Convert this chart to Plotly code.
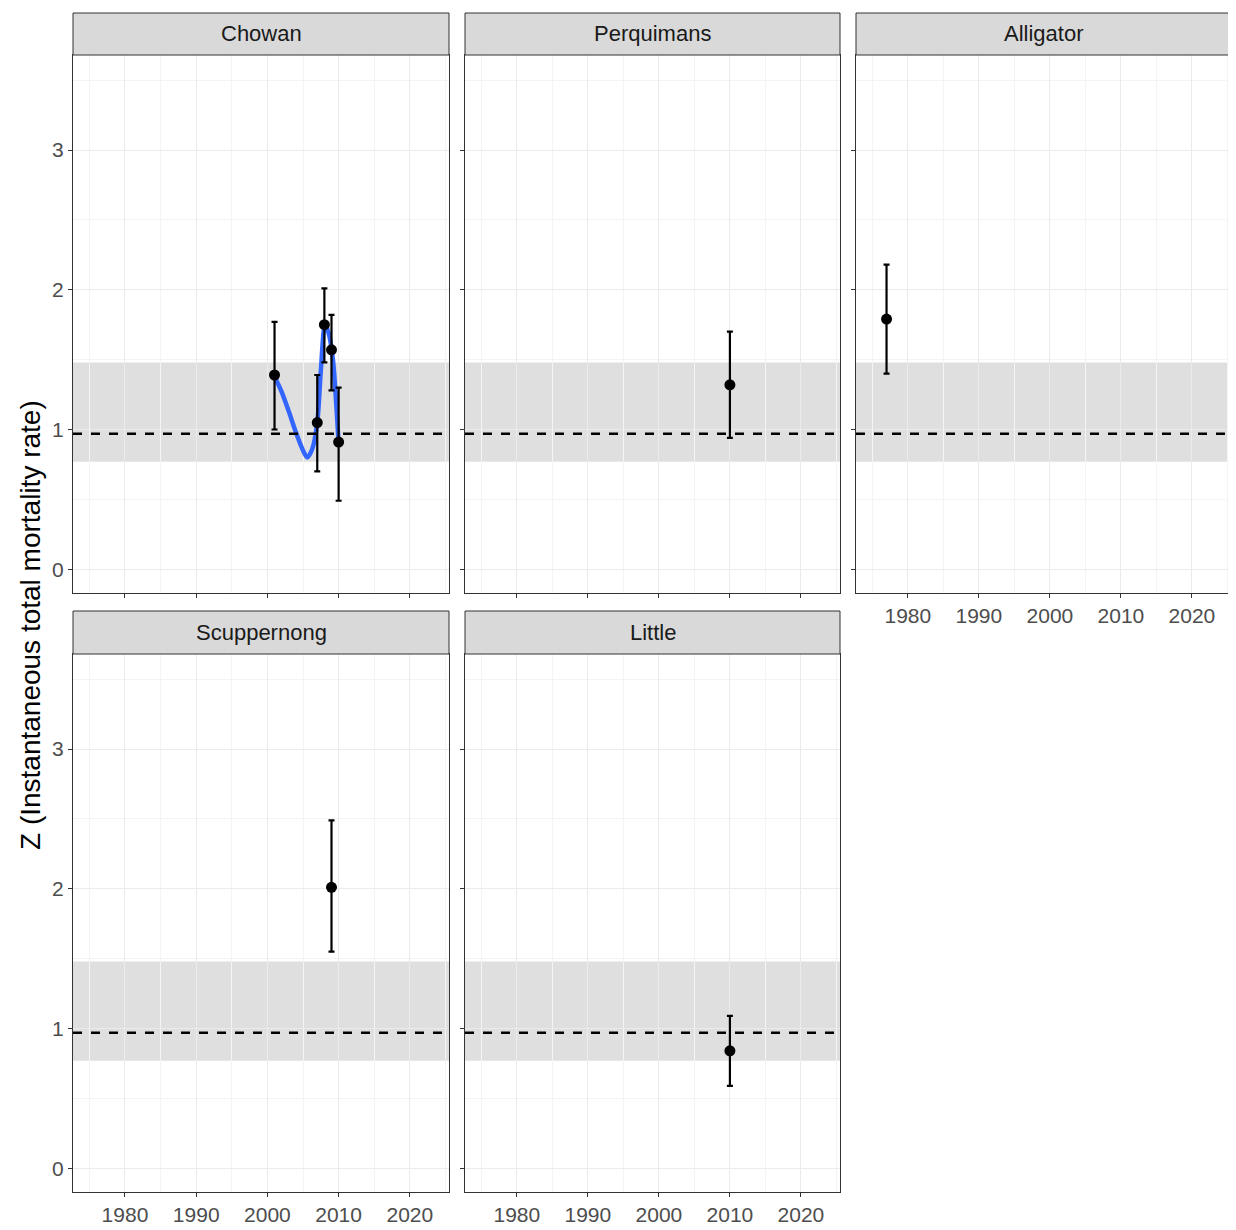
import numpy as np
import plotly.graph_objects as go

W, H = 1236, 1230
OFF = 8  # default page body margin

panels = ["Chowan", "Perquimans", "Alligator", "Scuppernong", "Little"]

chowan_year = [2001, 2007, 2008, 2009, 2010]
chowan_z = [1.39, 1.05, 1.75, 1.57, 0.91]
chowan_hi = [1.77, 1.39, 2.01, 1.82, 1.30]
chowan_lo = [1.00, 0.70, 1.48, 1.28, 0.49]

# loess smooth line for Chowan
smooth_year = [2001, 2002, 2003, 2004, 2005, 2005.6, 2006.3, 2007, 2007.5, 2008.1, 2008.6, 2009.2, 2010]
smooth_z = [1.38, 1.27, 1.13, 0.98, 0.85, 0.80, 0.86, 1.05, 1.42, 1.75, 1.69, 1.50, 0.90]

perq_year = [2010]
perq_z = [1.32]
perq_hi = [1.70]
perq_lo = [0.94]

alli_year = [1977]
alli_z = [1.79]
alli_hi = [2.18]
alli_lo = [1.40]

scup_year = [2009]
scup_z = [2.01]
scup_hi = [2.49]
scup_lo = [1.55]

little_year = [2010]
little_z = [0.84]
little_hi = [1.09]
little_lo = [0.59]

ref_line = 0.97
ref_band = [0.77, 1.48]

x_ticks = [1980, 1990, 2000, 2010, 2020]
y_ticks = [0, 1, 2, 3]

data = {
    "Chowan": (chowan_year, chowan_z, chowan_hi, chowan_lo),
    "Perquimans": (perq_year, perq_z, perq_hi, perq_lo),
    "Alligator": (alli_year, alli_z, alli_hi, alli_lo),
    "Scuppernong": (scup_year, scup_z, scup_hi, scup_lo),
    "Little": (little_year, little_z, little_hi, little_lo),
}

col_px = [(73, 449), (465, 840), (856, 1231)]
row_px = [(55, 593), (654, 1192)]
strip_px = [(13, 55), (611, 654)]


def px(x):
    return (x - OFF) / W


def py(y):
    return 1 - (y - OFF) / H


FONT = "Liberation Sans"
fig = go.Figure()
layout = {}

for k, name in enumerate(panels):
    r, c = divmod(k, 3)
    idx = k + 1
    xa = "xaxis" if idx == 1 else f"xaxis{idx}"
    ya = "yaxis" if idx == 1 else f"yaxis{idx}"
    xr = "x" if idx == 1 else f"x{idx}"
    yr = "y" if idx == 1 else f"y{idx}"
    x0, x1 = col_px[c]
    y0, y1 = row_px[r]
    show_x = (r == 1) or (k == 2)
    show_y = c == 0
    layout[xa] = dict(
        domain=[px(x0), px(x1)], anchor=yr, range=[1972.7, 2025.5],
        tickvals=x_ticks, showticklabels=show_x,
        showline=True, mirror=True, linecolor="#333333", linewidth=1,
        ticks="outside", ticklen=4, tickcolor="#333333",
        showgrid=True, gridcolor="#EBEBEB", gridwidth=1.2, zeroline=False,
        minor=dict(tickvals=[1975, 1985, 1995, 2005, 2015, 2025], showgrid=True,
                   gridcolor="#F4F4F4", gridwidth=0.6, ticks=""),
        tickfont=dict(family=FONT, size=21, color="#4D4D4D"),
    )
    layout[ya] = dict(
        domain=[py(y1), py(y0)], anchor=xr, range=[-0.17, 3.68],
        tickvals=y_ticks, showticklabels=show_y,
        showline=True, mirror=True, linecolor="#333333", linewidth=1,
        ticks="outside", ticklen=4, tickcolor="#333333",
        showgrid=True, gridcolor="#EBEBEB", gridwidth=1.2, zeroline=False,
        minor=dict(tickvals=[0.5, 1.5, 2.5, 3.5], showgrid=True,
                   gridcolor="#F4F4F4", gridwidth=0.6, ticks=""),
        tickfont=dict(family=FONT, size=21, color="#4D4D4D"),
    )
    # reference band and line
    fig.add_shape(type="rect", xref=f"{xr} domain", yref=yr, x0=0, x1=1,
                  y0=ref_band[0], y1=ref_band[1], fillcolor="rgba(150,150,150,0.3)",
                  line=dict(width=0), layer="below")
    fig.add_shape(type="line", xref=f"{xr} domain", yref=yr, x0=0, x1=1,
                  y0=ref_line, y1=ref_line, line=dict(color="black", width=2.5, dash="dash"))
    # strip
    s0, s1 = strip_px[r]
    fig.add_shape(type="rect", xref="paper", yref="paper", x0=px(x0), x1=px(x1),
                  y0=py(s1), y1=py(s0), fillcolor="#D9D9D9",
                  line=dict(color="#333333", width=1))
    fig.add_annotation(text=name, xref="paper", yref="paper", x=px((x0 + x1) / 2),
                       y=py((s0 + s1) / 2), showarrow=False, xanchor="center", yanchor="middle",
                       font=dict(family=FONT, size=22, color="#1A1A1A"))

    yrs, z, hi, lo = data[name]
    if name == "Chowan":
        fig.add_trace(go.Scatter(x=smooth_year, y=smooth_z, mode="lines",
                                 line=dict(color="#3366FF", width=4.5, shape="spline", smoothing=0.8),
                                 xaxis=xr, yaxis=yr, showlegend=False, hoverinfo="skip"))
    fig.add_trace(go.Scatter(
        x=yrs, y=z, mode="markers", xaxis=xr, yaxis=yr, showlegend=False,
        marker=dict(color="black", size=11),
        error_y=dict(type="data", symmetric=False,
                     array=[h - v for h, v in zip(hi, z)],
                     arrayminus=[v - l for v, l in zip(z, lo)],
                     color="black", thickness=2.2, width=3),
    ))

fig.add_annotation(text="Z (Instantaneous total mortality rate)", xref="paper", yref="paper",
                   x=px(30), y=py(625), textangle=-90, showarrow=False,
                   xanchor="center", yanchor="middle",
                   font=dict(family=FONT, size=28, color="black"))

fig.update_layout(width=W, height=H, margin=dict(l=0, r=0, t=0, b=0),
                  plot_bgcolor="white", paper_bgcolor="white", **layout)

fig.write_html("out.html")
